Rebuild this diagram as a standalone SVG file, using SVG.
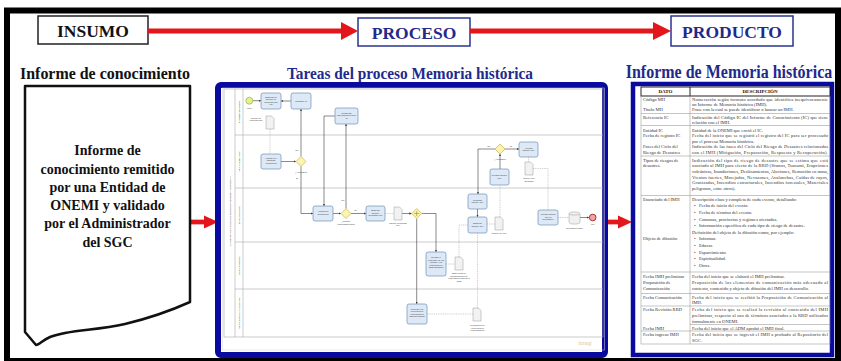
<svg xmlns="http://www.w3.org/2000/svg" width="841" height="361" viewBox="0 0 841 361">
<style>
.serif{font-family:"Liberation Serif","Times New Roman",serif;font-weight:700}
.navy{fill:#1f2a8c}
.hbox{fill:#fff;stroke-width:1.5}
.red{fill:#e3161b}
.redline{stroke:#e3161b;fill:none}
.frame{fill:#fff;stroke:#0a0a9e}
.lane{fill:none;stroke:#a8a8a8;stroke-width:0.6}
.task{fill:#dde9f6;stroke:#6f8fb5;stroke-width:0.7}
.gw{fill:#fbf4b0;stroke:#c9b350;stroke-width:0.7}
.doc{fill:#f2f2f2;stroke:#9a9a9a;stroke-width:0.5}
.flow{fill:none;stroke:#3a3a3a;stroke-width:0.6}
.assoc{fill:none;stroke:#9a9a9a;stroke-width:0.5;stroke-dasharray:1 0.8}
.bt{font-family:"Liberation Sans",Arial,sans-serif;font-size:2.2px;fill:#333;text-anchor:middle}
.lt{font-family:"Liberation Sans",Arial,sans-serif;font-size:2.4px;fill:#444;text-anchor:middle}
.tt{font-family:"Liberation Serif","Times New Roman",serif;font-size:4.6px;fill:#333}
.th{font-family:"Liberation Serif","Times New Roman",serif;font-size:5px;font-weight:bold;fill:#111;text-anchor:middle}
.grid{stroke:#8a8a8a;stroke-width:0.5;fill:none}
</style>
<defs>
<marker id="ah" viewBox="0 0 6 6" refX="6" refY="3" markerWidth="2.4" markerHeight="2.4" markerUnits="userSpaceOnUse" orient="auto"><path d="M0,0 L6,3 L0,6 Z" fill="#3a3a3a"/></marker>
<path id="dpage" d="M0,0 H5.5 L8,2.5 V13 H0 Z"/>
</defs>

<rect x="0" y="0" width="841" height="361" fill="#fff"/>
<rect id="outer-frame" x="7" y="10.5" width="831" height="350.5" fill="none" stroke="#000" stroke-width="6"/>

<!-- header nodes -->
<g id="insumo">
<rect class="hbox" x="38" y="16" width="110" height="28" stroke="#222"/>
<text class="serif" x="93" y="36.5" font-size="17.5" text-anchor="middle" fill="#111">INSUMO</text>
</g>
<g id="proceso">
<rect class="hbox" x="358" y="18" width="112" height="28" stroke="#2a3490"/>
<text class="serif navy" x="414" y="38.5" font-size="17.5" text-anchor="middle">PROCESO</text>
</g>
<g id="producto">
<rect class="hbox" x="671" y="16" width="122" height="30" stroke="#2a3490"/>
<text class="serif navy" x="732" y="37.5" font-size="17.5" text-anchor="middle">PRODUCTO</text>
</g>

<!-- red connectors -->
<g id="connectors">
<line class="redline" x1="148" y1="31" x2="343" y2="31" stroke-width="5"/>
<polygon class="red" points="341,22 358,31 341,40"/>
<line class="redline" x1="470" y1="31" x2="655" y2="31" stroke-width="5"/>
<polygon class="red" points="653,22 671,31 653,40"/>
<line class="redline" x1="190" y1="222" x2="206" y2="222" stroke-width="4.7"/>
<polygon class="red" points="204,215.5 218,222 204,228.5"/>
<line class="redline" x1="606" y1="222" x2="620" y2="222" stroke-width="4.7"/>
<polygon class="red" points="618,215.5 632,222 618,228.5"/>
</g>

<!-- section titles -->
<text class="serif" x="105" y="79" font-size="17" text-anchor="middle" textLength="170" lengthAdjust="spacingAndGlyphs" fill="#111">Informe de conocimiento</text>
<text class="serif navy" x="410" y="79" font-size="17" text-anchor="middle" textLength="246" lengthAdjust="spacingAndGlyphs">Tareas del proceso Memoria histórica</text>
<text class="serif navy" transform="translate(729,78) scale(1,1.13)" x="0" y="0" font-size="16" text-anchor="middle">Informe de Memoria histórica</text>

<!-- input document -->
<g id="informe-conocimiento">
<path d="M25,86 H190 V302 C170,311 150,318 125,324 C95,331 70,329 50,337 C43,340 39,345 36,345 L25,332 Z" fill="#fff" stroke="#111" stroke-width="2.5" stroke-linejoin="round"/>
<g class="serif" font-size="14" text-anchor="middle" fill="#111">
<text x="107.5" y="155">Informe de</text>
<text x="107.5" y="173.5">conocimiento remitido</text>
<text x="107.5" y="192">por una Entidad de</text>
<text x="107.5" y="210">ONEMI y validado</text>
<text x="107.5" y="228">por el Administrador</text>
<text x="107.5" y="246.5">del SGC</text>
</g>
</g>

<!-- BPMN process -->
<g id="bpmn">
<rect class="frame" x="218" y="85" width="387" height="270" rx="3" stroke-width="6"/>
<rect x="222.5" y="88" width="382" height="262" fill="none" stroke="#d8d8d8" stroke-width="0.5"/>
<g id="pool">
<rect class="lane" x="224" y="89" width="379" height="248"/>
<line class="lane" x1="235" y1="89" x2="235" y2="337"/>
<line class="lane" x1="243" y1="89" x2="243" y2="337"/>
<line class="lane" x1="235" y1="135" x2="603" y2="135"/>
<line class="lane" x1="235" y1="188" x2="603" y2="188"/>
<line class="lane" x1="235" y1="242" x2="603" y2="242"/>
<line class="lane" x1="235" y1="289" x2="603" y2="289"/>
<text class="lt" transform="translate(230.5,211) rotate(-90)" font-size="2.6">DIAGRAMA DE FLUJO DEL PROCESO "MEMORIA HISTÓRICA"</text>
<text class="lt" transform="translate(240,112) rotate(-90)">Entidades de ONEMI</text>
<text class="lt" transform="translate(240,161.5) rotate(-90)">Administrador SGC</text>
<text class="lt" transform="translate(240,215) rotate(-90)">Especialista SGC</text>
<text class="lt" transform="translate(240,265.5) rotate(-90)">Especialista RRD</text>
<text class="lt" transform="translate(240,313) rotate(-90)">Especialista Comunicaciones</text>
</g>

<g id="bpmn-flows">
<path class="flow" d="M252.8,100.7 H261" marker-end="url(#ah)"/>
<path class="flow" d="M291,101 H281" marker-end="url(#ah)"/>
<path class="assoc" d="M270,129 V154"/>
<path class="flow" d="M281,161.5 H296" marker-end="url(#ah)"/>
<path class="flow" d="M301,156.5 V109" marker-end="url(#ah)"/>
<path class="flow" d="M301,166.5 V213.5 H313" marker-end="url(#ah)"/>
<path class="flow" d="M335,116 H324 V206" marker-end="url(#ah)"/>
<path class="flow" d="M333,213.5 H341" marker-end="url(#ah)"/>
<path class="flow" d="M346,208.5 V124" marker-end="url(#ah)"/>
<path class="flow" d="M351,213.5 H366" marker-end="url(#ah)"/>
<path class="assoc" d="M385,213.5 H394"/>
<path class="flow" d="M402,213.5 H411.7" marker-end="url(#ah)"/>
<path class="flow" d="M421.7,213.5 H436 V252" marker-end="url(#ah)"/>
<path class="flow" d="M416.7,218.5 V304" marker-end="url(#ah)"/>
<path class="assoc" d="M446,264 H455"/>
<path class="assoc" d="M459,257 V225 H468"/>
<path class="assoc" d="M427,314 H473"/>
<path class="assoc" d="M477.5,308 V233"/>
<path class="flow" d="M477.5,209 V217" marker-end="url(#ah)"/>
<path class="assoc" d="M487,224 H495"/>
<path class="assoc" d="M500,217 V185"/>
<path class="flow" d="M500,169 V154" marker-end="url(#ah)"/>
<path class="flow" d="M495,149 H478 V194" marker-end="url(#ah)"/>
<path class="flow" d="M505,149 H519" marker-end="url(#ah)"/>
<path class="assoc" d="M528.5,157 V162"/>
<path class="assoc" d="M533,168.5 H548 V210"/>
<path class="assoc" d="M558,217.5 H569"/>
<path class="flow" d="M580,217.5 H589.2" marker-end="url(#ah)"/>
<text class="bt" x="297" y="151">No</text>
<text class="bt" x="297" y="178.5">Si</text>
<text class="bt" x="343" y="200.5">No</text>
<text class="bt" x="355.5" y="211">Si</text>
<text class="bt" x="489" y="146.5">No</text>
<text class="bt" x="511" y="146.5">Si</text>
</g>

<g id="inicio"><circle cx="249.3" cy="100.7" r="3.5" fill="#e6f08c" stroke="#8aa83a" stroke-width="0.6"/><text class="bt" x="249.5" y="108.8">Inicio</text></g>
<g id="t-elaborar-ic"><rect class="task" x="261" y="93" width="20" height="16" rx="2"/><text class="bt" x="271" y="97.6">Elaborar un<tspan x="271" dy="2.6">Informe de</tspan><tspan x="271" dy="2.6">Conocimiento</tspan><tspan x="271" dy="2.6">(IC)</tspan></text></g>
<g id="t-modificar-ic"><rect class="task" x="291" y="93" width="20" height="16" rx="2"/><text class="bt" x="301" y="101.8">Modificar IC</text></g>
<g id="d-informe-conocimiento"><use href="#dpage" class="doc" x="266" y="116"/><text class="bt" x="256" y="118.5">Informe de<tspan x="256" dy="2.6">conocimiento</tspan></text></g>
<g id="t-completar"><rect class="task" x="335" y="108" width="23" height="16" rx="2"/><text class="bt" x="346.5" y="113.5">Completar<tspan x="346.5" dy="2.6">especificaciones del</tspan><tspan x="346.5" dy="2.6">IC</tspan></text></g>
<g id="t-analizar-ic"><rect class="task" x="261" y="154" width="20" height="15" rx="2"/><text class="bt" x="271" y="158.6">Analizar IC y<tspan x="271" dy="2.6">visualizar</tspan><tspan x="271" dy="2.6">pertinencia</tspan></text></g>
<g id="gw-aprobado-1"><path class="gw" d="M301,156.5 L306,161.5 L301,166.5 L296,161.5 Z"/><text class="bt" x="301" y="172.8">¿Aprobado?</text></g>
<g id="t-analizar-pertinencia"><rect class="task" x="313" y="206" width="20" height="15" rx="2"/><text class="bt" x="323" y="212.3">Analizar su<tspan x="323" dy="2.6">pertinencia</tspan></text></g>
<g id="gw-cumple"><path class="gw" d="M346,208.5 L351,213.5 L346,218.5 L341,213.5 Z"/><text class="bt" x="346" y="222">¿Cumple<tspan x="346" dy="2.6">especificaciones?</tspan></text></g>
<g id="t-elaborar-preliminar"><rect class="task" x="366" y="206" width="19" height="15" rx="2"/><text class="bt" x="375.5" y="211">Elaborar<tspan x="375.5" dy="2.6">informe</tspan><tspan x="375.5" dy="2.6">preliminar IMH</tspan></text></g>
<g id="d-informe-preliminar"><use href="#dpage" class="doc" x="394" y="207"/><text class="bt" x="398" y="223.5">Informe preliminar<tspan x="398" dy="2.6">IMH</tspan></text></g>
<g id="gw-paralelo"><path class="gw" d="M416.7,208.5 L421.7,213.5 L416.7,218.5 L411.7,213.5 Z"/><path d="M416.7,211 V216 M414.2,213.5 H419.2" stroke="#9a8a30" stroke-width="0.6"/></g>
<g id="t-revisar-contenido"><rect class="task" x="426" y="252" width="20" height="24" rx="2"/><text class="bt" x="436" y="258">Revisar el<tspan x="436" dy="2.6">contenido de los</tspan><tspan x="436" dy="2.6">riesgos y los</tspan><tspan x="436" dy="2.6">conceptos de</tspan><tspan x="436" dy="2.6">RRD utilizados</tspan></text></g>
<g id="d-sugerencia"><use href="#dpage" class="doc" x="455" y="257"/><text class="bt" x="459" y="274">Sugerencia de<tspan x="459" dy="2.6">modificaciones de</tspan><tspan x="459" dy="2.6">contenidos respecto a</tspan><tspan x="459" dy="2.6">RRD</tspan></text></g>
<g id="t-proponer"><rect class="task" x="407" y="304" width="20" height="20" rx="2"/><text class="bt" x="417" y="309.5">Proponer los<tspan x="417" dy="2.6">elementos de</tspan><tspan x="417" dy="2.6">comunicación</tspan><tspan x="417" dy="2.6">más adecuados</tspan></text></g>
<g id="d-proposicion"><use href="#dpage" class="doc" x="473" y="308"/><text class="bt" x="477.5" y="326">Proposición de<tspan x="477.5" dy="2.6">elementos de</tspan><tspan x="477.5" dy="2.6">comunicación</tspan></text></g>
<g id="t-modificar-imh"><rect class="task" x="468" y="194" width="19" height="15" rx="2"/><text class="bt" x="477.5" y="200.5">Modificar<tspan x="477.5" dy="2.6">informe IMH</tspan></text></g>
<g id="t-elaborar-imh"><rect class="task" x="468" y="217" width="19" height="16" rx="2"/><text class="bt" x="477.5" y="224">Elaborar<tspan x="477.5" dy="2.6">informe IMH</tspan></text></g>
<g id="d-informe-imh"><use href="#dpage" class="doc" x="495" y="217"/><text class="bt" x="499" y="233.5">Informe de IMH</text></g>
<g id="t-revisar-imh"><rect class="task" x="490" y="169" width="19" height="16" rx="2"/><text class="bt" x="499.5" y="176">Revisar informe<tspan x="499.5" dy="2.6">IMH</tspan></text></g>
<g id="gw-aprobado-2"><path class="gw" d="M500,144 L505,149 L500,154 L495,149 Z"/><text class="bt" x="500" y="160">¿Aprobado?</text></g>
<g id="t-aprobar-imh"><rect class="task" x="519" y="142" width="19" height="15" rx="2"/><text class="bt" x="528.5" y="148.5">Aprobar<tspan x="528.5" dy="2.6">informe IMH</tspan></text></g>
<g id="d-imh-aprobado"><use href="#dpage" class="doc" x="525" y="162"/><text class="bt" x="529" y="179">Informe IMH<tspan x="529" dy="2.6">aprobado</tspan></text></g>
<g id="t-agregar"><rect class="task" x="538" y="210" width="20" height="15" rx="2"/><text class="bt" x="548" y="215">Agregar informe<tspan x="548" dy="2.6">IMH al</tspan><tspan x="548" dy="2.6">Repositorio</tspan></text></g>
<g id="ds-repositorio"><path d="M569,213.5 V222.5 A5.5,1.6 0 0 0 580,222.5 V213.5 A5.5,1.6 0 0 0 569,213.5 A5.5,1.6 0 0 0 580,213.5" fill="#f0f0f0" stroke="#9a9a9a" stroke-width="0.5"/><text class="bt" x="574.5" y="228.5">Repositorio SGC</text></g>
<g id="fin"><circle cx="592.7" cy="217.5" r="3.3" fill="#f4a3a3" stroke="#b03030" stroke-width="1"/><text class="bt" x="592.7" y="225">Fin</text></g>
<text x="585" y="345" font-family="Liberation Sans,Arial,sans-serif" font-size="5" fill="#e6c79e" text-anchor="middle">bizagi</text>
</g>

<!-- output table -->
<g id="informe-memoria">
<rect class="frame" x="633" y="84" width="199" height="271" stroke-width="4.5"/>
<rect x="641" y="87" width="189" height="9" fill="#fff" stroke="#111" stroke-width="0.9"/>
<line x1="690" y1="87" x2="690" y2="96" stroke="#111" stroke-width="0.9"/>
<text class="th" x="665.5" y="93.4">DATO</text>
<text class="th" x="760" y="93.4">DESCRIPCIÓN</text>
<rect class="grid" x="641" y="96" width="189" height="248"/>
<line class="grid" x1="690" y1="96" x2="690" y2="344"/>
<path class="grid" d="M641,113.5 H830 M641,125.5 H830 M641,156 H830 M641,195.5 H830 M641,272 H830 M641,293.5 H830 M641,306 H830 M690,324.5 H830 M641,331 H830"/>
<g class="tt">
<text x="643" y="101">Código MH</text>
<text x="643" y="111">Título MH</text>
<text x="643" y="118.5">Referencia IC</text>
<text x="643" y="131.5">Entidad IC</text>
<text x="643" y="137">Fecha de registro IC</text>
<text x="643" y="148">Fases del Ciclo del</text>
<text x="643" y="153.5">Riesgo de Desastres</text>
<text x="643" y="161.5">Tipos de riesgos de</text>
<text x="643" y="167.2">desastres.</text>
<text x="643" y="200.8">Enunciado del IMH</text>
<text x="643" y="240.4">Objeto de difusión</text>
<text x="643" y="278">Fecha IMH preliminar</text>
<text x="643" y="284">Proposición de</text>
<text x="643" y="290">Comunicación</text>
<text x="643" y="299">Fecha Comunicación</text>
<text x="643" y="310.5">Fecha Revisión RRD</text>
<text x="643" y="329.5">Fecha IMH</text>
<text x="643" y="336">Fecha ingreso IMH</text>

<text x="692" y="101" textLength="136" lengthAdjust="spacing">Numeración según formato acordado que identifica inequívocamente</text>
<text x="692" y="106">un Informe de Memoria histórica (IMH).</text>
<text x="692" y="111">Frase con la cual se puede identificar o buscar un IMH.</text>
<text x="692" y="118.5" textLength="136" lengthAdjust="spacing">Indicación del Código IC del Informe de Conocimiento (IC) que tiene</text>
<text x="692" y="123.8">relación con el IMH.</text>
<text x="692" y="131.5">Entidad de la ONEMI que envió el IC.</text>
<text x="692" y="137" textLength="136" lengthAdjust="spacing">Fecha del inicio que se registró el registro del IC para ser procesado</text>
<text x="692" y="142.5">por el proceso Memoria histórica.</text>
<text x="692" y="148" textLength="136" lengthAdjust="spacing">Indicación de las fases del Ciclo del Riesgo de Desastres relacionadas</text>
<text x="692" y="153.5" textLength="136" lengthAdjust="spacing">con el IMH (Mitigación, Preparación, Respuesta y Recuperación).</text>
<text x="692" y="161.5" textLength="136" lengthAdjust="spacing">Indicación del tipo de riesgo de desastre que se estima que está</text>
<text x="692" y="167.2" textLength="136" lengthAdjust="spacing">asociado al IMH para efecto de la RRD (Sismos, Tsunami, Erupciones</text>
<text x="692" y="172.9" textLength="136" lengthAdjust="spacing">volcánicas, Inundaciones, Deslizamientos, Aluviones, Remoción en masa,</text>
<text x="692" y="178.6" textLength="136" lengthAdjust="spacing">Vientos fuertes, Marejadas, Nevazones, Avalanchas, Caídas de rayos,</text>
<text x="692" y="184.3" textLength="136" lengthAdjust="spacing">Granizadas, Incendios estructurales, Incendios forestales, Materiales</text>
<text x="692" y="190">peligrosos, entre otros).</text>
<text x="692" y="200.8">Descripción clara y completa de cada evento, detallando:</text>
<text x="694" y="207.4">•<tspan x="699">Fecha de inicio del evento.</tspan></text>
<text x="694" y="214">•<tspan x="699">Fecha de término del evento.</tspan></text>
<text x="694" y="220.6">•<tspan x="699">Comunas, provincias y regiones afectadas.</tspan></text>
<text x="694" y="227.2">•<tspan x="699">Información específica de cada tipo de riesgo de desastre.</tspan></text>
<text x="692" y="233.8">Definición del objeto de la difusión como, por ejemplo:</text>
<text x="694" y="240.4">•<tspan x="699">Informar.</tspan></text>
<text x="694" y="247">•<tspan x="699">Educar.</tspan></text>
<text x="694" y="253.6">•<tspan x="699">Esparcimiento.</tspan></text>
<text x="694" y="260.2">•<tspan x="699">Espiritualidad.</tspan></text>
<text x="694" y="266.8">•<tspan x="699">Otros.</tspan></text>
<text x="692" y="278">Fecha del inicio que se elaboró el IMH preliminar.</text>
<text x="692" y="284" textLength="136" lengthAdjust="spacing">Proposición de los elementos de comunicación más adecuado al</text>
<text x="692" y="290">contexto, contenido y objeto de difusión del IMH en desarrollo.</text>
<text x="692" y="299" textLength="136" lengthAdjust="spacing">Fecha del inicio que se recibió la Proposición de Comunicación al</text>
<text x="692" y="304.4">IMH.</text>
<text x="692" y="310.5" textLength="136" lengthAdjust="spacing">Fecha del inicio que se realizó la revisión al contenido del IMH</text>
<text x="692" y="316.5" textLength="136" lengthAdjust="spacing">preliminar, respecto al uso de términos asociados a la RRD utilizados</text>
<text x="692" y="322.5">formalmente en ONEMI.</text>
<text x="692" y="329.5">Fecha del inicio que el ADM aprobó el IMH final.</text>
<text x="692" y="336" textLength="136" lengthAdjust="spacing">Fecha del inicio que se ingresó el IMH a probado al Repositorio del</text>
<text x="692" y="341.6">SGC.</text>
</g>
</g>
</svg>
